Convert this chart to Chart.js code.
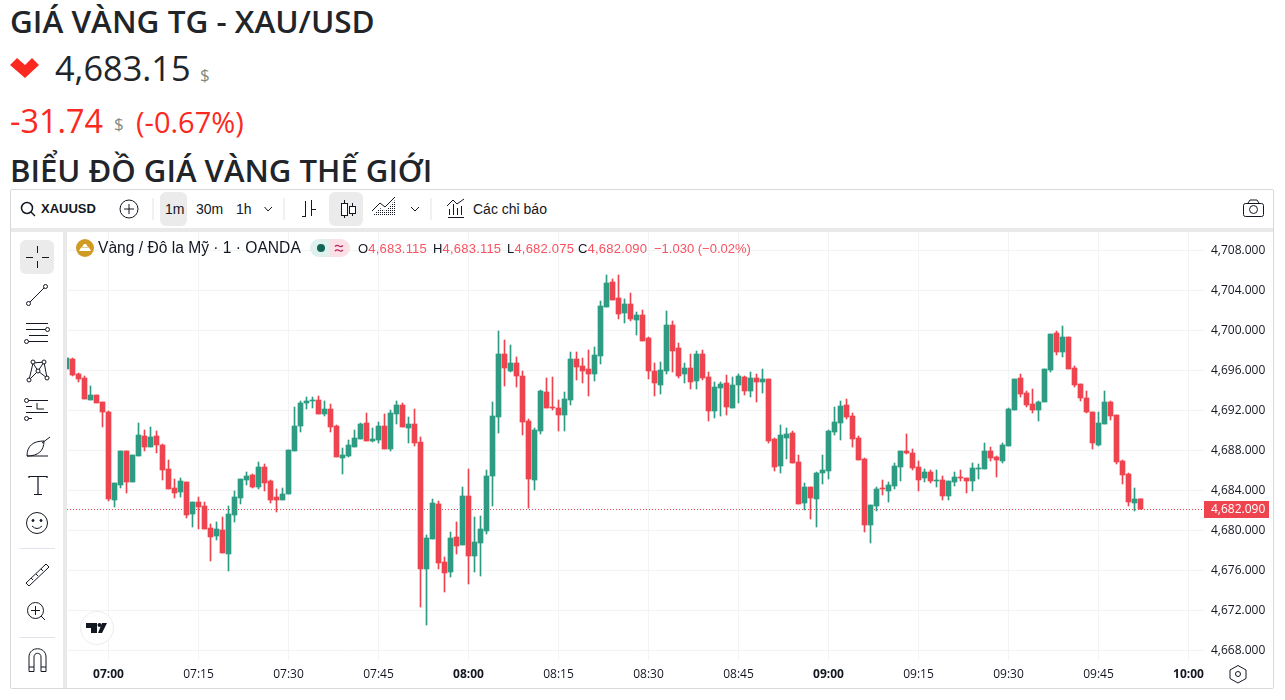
<!DOCTYPE html>
<html lang="vi">

<head>
    <meta charset="UTF-8" />
    <title>Giá vàng thế giới</title>
    <script src="https://cdn.jsdelivr.net/npm/chart.js"></script>
    <style>
        html, body { margin: 0; padding: 0; background: #fff; overflow: hidden; }
        body { width: 1285px; height: 700px; position: relative; font-family: "Liberation Sans", sans-serif; color: #131722; }
        .t { position: absolute; white-space: nowrap; line-height: 1; }
        .head { font-family: "Open Sans", sans-serif; color: #212529; }
        .bar { position: absolute; background: #e9e9e9; }
        .pill { position: absolute; background: #ebebeb; border-radius: 6px; }
        #khung { position: absolute; left: 10px; top: 189px; width: 1262px; height: 498px; border: 1px solid #d9d9d9; border-radius: 2px; }
        #bieudo { position: absolute; left: 67px; top: 232px; }
        #icons { position: absolute; left: 0; top: 0; }
    </style>
</head>

<body>
    <div class="t head" style="left:10px;top:5px;font-size:31.5px;font-weight:600">GIÁ VÀNG TG - XAU/USD</div>
    <div class="t head" style="left:55px;top:51px;font-size:34.3px">4,683.15</div>
    <div class="t head" style="left:200px;top:66px;font-size:17px;color:#7d8a80">$</div>
    <div class="t head" style="left:10px;top:104px;font-size:32.4px;color:#fb2a21">-31.74</div>
    <div class="t head" style="left:114px;top:115px;font-size:17px;color:#7d8a80">$</div>
    <div class="t head" style="left:136px;top:107px;font-size:29px;color:#fb2a21">(-0.67%)</div>
    <div class="t head" style="left:10px;top:155px;font-size:31.1px;font-weight:600">BIỂU ĐỒ GIÁ VÀNG THẾ GIỚI</div>

    <div id="khung"></div>
    <div class="bar" style="left:11px;top:228px;width:1262px;height:4px"></div>
    <div class="bar" style="left:63px;top:232px;width:4px;height:456px"></div>

    <div class="pill" style="left:160px;top:192px;width:27px;height:34px"></div>
    <div class="pill" style="left:329px;top:192px;width:34px;height:34px"></div>
    <div class="pill" style="left:20px;top:240px;width:34px;height:34px"></div>

    <canvas id="bieudo" width="1207" height="456"></canvas>

    <div class="t" style="left:41px;top:202px;font-size:13px;font-weight:700">XAUUSD</div>
    <div class="t" style="left:165px;top:202px;font-size:14px">1m</div>
    <div class="t" style="left:196px;top:202px;font-size:14px">30m</div>
    <div class="t" style="left:236px;top:202px;font-size:14px">1h</div>
    <div class="t" style="left:473px;top:202px;font-size:14px">Các chỉ báo</div>

    <div class="t" style="left:98px;top:240px;font-size:15.6px">Vàng / Đô la Mỹ · 1 · OANDA</div>
    <div class="t" style="left:358px;top:242px;font-size:13px;letter-spacing:.2px">O<span style="color:#f7525f">4,683.115</span></div>
    <div class="t" style="left:433px;top:242px;font-size:13px;letter-spacing:.2px">H<span style="color:#f7525f">4,683.115</span></div>
    <div class="t" style="left:507px;top:242px;font-size:13px;letter-spacing:.2px">L<span style="color:#f7525f">4,682.075</span></div>
    <div class="t" style="left:578px;top:242px;font-size:13px;letter-spacing:.2px">C<span style="color:#f7525f">4,682.090</span></div>
    <div class="t" style="left:654px;top:242px;font-size:13px;color:#f7525f">−1.030 (−0.02%)</div>

    <svg id="icons" width="1285" height="700" fill="none" stroke="#131722" stroke-width="1">
        <defs>
            <pattern id="soc" width="2" height="2" patternUnits="userSpaceOnUse"><rect width="1" height="1" fill="#131722" stroke="none" /></pattern>
        </defs>
        <!-- mui ten giam -->
        <path d="M10 65 L17 58 L25 65 L32 58 L39 65 L25 78 Z" fill="#fb2a21" stroke="none" />

        <!-- thanh cong cu tren -->
        <circle cx="27" cy="208" r="5.5" stroke-width="1.5" /><path d="M31 212 L35 216" stroke-width="1.5" />
        <circle cx="129" cy="209" r="9" /><path d="M129 204 V214 M124 209 H134" />
        <path d="M153 198 V220 M284 198 V220 M431 198 V220" stroke="#e0e3eb" />
        <path d="M264.500 207 L268 211 L272 207 M411 207 L415 211 L419 207" />
        <path d="M302 216.500 H305.500 M305.500 201 V217 M311.500 200 V216 M311.500 209.500 H316" />
        <path d="M344.500 200 V218 M352.500 203 V216" /><rect x="341.500" y="203.500" width="6" height="12" fill="#fff" /><rect x="349.500" y="206.500" width="6" height="7" fill="#fff" />
        <path d="M372 216 L380 208 L385 211 L395 200 V216 Z" fill="url(#soc)" stroke="none" /><path d="M372 211 L380 203 L385 207 L395 197" />
        <path d="M448 217.500 H464 M449.500 215 V209 M453.500 215 V204 M457.500 215 V208 M461.500 215 V206 M447 206 L453 200 L457 204 L464 199" />
        <rect x="1243.500" y="203.500" width="20" height="13" rx="2" /><circle cx="1253.500" cy="209.500" r="4" /><path d="M1248 203 L1250 200 H1257 L1259 203" />

        <!-- thanh cong cu trai -->
        <path d="M37.500 246 V253 M37.500 261 V268 M26 257.500 H33 M42 257.500 H49" />
        <circle cx="28.500" cy="303.500" r="2" /><circle cx="45.500" cy="286.500" r="2" /><path d="M30 302 L44 288" />
        <path d="M26 323.500 H48 M26 329.500 H45 M26 341.500 H48 M29 335.500 H48" /><circle cx="47.500" cy="329.500" r="2" fill="#fff" /><circle cx="26.500" cy="341.500" r="2" fill="#fff" />
        <path d="M29 380 L33 363 L38 371 L44 362 L47 378 L38 371 L29 380 M33 363 L44 362" /><circle cx="29" cy="380" r="2" fill="#fff" /><circle cx="33" cy="362" r="2" fill="#fff" /><circle cx="38" cy="371" r="2" fill="#fff" /><circle cx="44" cy="362" r="2" fill="#fff" /><circle cx="47" cy="378" r="2" fill="#fff" />
        <path d="M26 400.500 H48 M26 406.500 H32 M26 412.500 H48 M26 418.500 H32 M37 403 V409 H44" /><circle cx="26.500" cy="400.500" r="2" fill="#fff" /><circle cx="26.500" cy="418.500" r="2" fill="#fff" />
        <path d="M27 456 C27 446 33 441 44 441 C44 451 38 456 27 456 Z M27 456 H48 M42 443 L50 437" />
        <path d="M29 478 V476.500 H47 V478 M38 477 V494 M34 494.500 H42" stroke-width="1.200" />
        <circle cx="37" cy="523" r="10.500" /><circle cx="33" cy="520.500" r="1" fill="#131722" /><circle cx="41" cy="520.500" r="1" fill="#131722" /><path d="M32 526 Q37 531 42 526" />
        <path d="M19.500 548.500 H55 M19.500 637.500 H55" stroke="#e0e3eb" />
        <path d="M26 583 L46 564 L49 567 L29 586 Z M31 578 L33 580 M36 574 L38 576 M41 569 L43 571" />
        <circle cx="35.500" cy="610.500" r="8" /><path d="M41 616 L45 620 M35.500 606 V615 M31 610.500 H40" />
        <path d="M29 671.500 V657 C29 646 46 646 46 657 V671.500 H41 V657 C41 652 34 652 34 657 V671.500 Z M29 667 H34 M41 667 H46" />
        <path d="M1238 665.500 L1246 670 V678.500 L1238 683 L1230 678.500 V670 Z" /><circle cx="1238" cy="674" r="2.500" />

        <!-- tieu de vang va logo -->
        <circle cx="85" cy="248" r="9" fill="#cf9b23" stroke="none" />
        <path d="M79 251 H91 L89 247.500 H81 Z M82 247 L84 244 H86 L88 247 Z" fill="#fff" stroke="none" />
        <path d="M319 239 H330 V257 H319 A9 9 0 0 1 319 239 Z" fill="#dff1ec" stroke="none" />
        <path d="M330 239 H341 A9 9 0 0 1 341 257 H330 Z" fill="#fbe1e6" stroke="none" />
        <circle cx="321" cy="248" r="4" fill="#136655" stroke="none" />
        <path d="M335 246.500 Q337 244.500 339 246 Q341 247.500 343 245.500 M335 251 Q337 249 339 250.500 Q341 252 343 250" stroke="#b5225f" stroke-width="1.200" />
        <circle cx="97" cy="628" r="16.500" fill="#fff" stroke="#ececec" />
        <path d="M86 623 H97 V633 H91 V628 H86 Z M107 623 L102 633 H98 L102 623 Z" fill="#131722" stroke="none" /><circle cx="99.500" cy="625" r="2" fill="#131722" stroke="none" />
    </svg>

    <script>
        // Nen 1 phut XAU/USD, phut 0 la 07:00
        const firstMinute = -7;
        const opens = [
            4696.1, 4697.1, 4695.6, 4695.2, 4693.0, 4693.5, 4692.8,
            4691.8, 4683.0, 4684.5, 4687.9, 4684.8, 4687.4, 4689.4, 4688.3, 4689.4, 4688.5,
            4686.1, 4684.2, 4683.8, 4684.8, 4681.6, 4682.8, 4682.4, 4680.2, 4679.4, 4680.0,
            4677.6, 4681.5, 4683.2, 4685.0, 4685.5, 4684.3, 4686.3, 4684.9, 4683.3, 4683.0,
            4683.6, 4687.9, 4690.4, 4692.7, 4692.9, 4693.0, 4691.6, 4692.1, 4690.4, 4687.2,
            4687.4, 4688.3, 4689.1, 4690.7, 4688.9, 4689.0, 4690.4, 4688.1, 4691.6, 4692.5,
            4690.2, 4690.6, 4688.8, 4676.1, 4679.1, 4682.6, 4676.8, 4675.8, 4679.3, 4678.5,
            4683.4, 4677.4, 4678.7, 4679.9, 4685.4, 4691.3, 4697.6, 4695.9, 4696.7, 4695.4,
            4690.9, 4685.0, 4689.9, 4693.8, 4692.3, 4692.2, 4691.5, 4693.0, 4697.1, 4696.4,
            4696.1, 4695.6, 4697.4, 4702.3, 4704.8, 4703.2, 4701.7, 4702.6, 4701.0, 4701.5,
            4699.2, 4695.9, 4694.5, 4695.9, 4700.5, 4698.2, 4695.6, 4696.2, 4694.9, 4697.6,
            4695.3, 4691.9, 4694.2, 4694.7, 4692.2, 4694.5, 4695.3, 4693.9, 4695.2, 4694.8,
            4695.1, 4689.1, 4686.4, 4689.2, 4689.7, 4686.8, 4682.7, 4684.3, 4683.1, 4685.7,
            4685.9, 4689.8, 4690.7, 4692.5, 4691.4, 4689.2, 4687.1, 4680.5, 4682.4, 4684.2,
            4683.9, 4684.4, 4686.3, 4687.9, 4687.7, 4686.3, 4685.2, 4685.8, 4684.9, 4685.0,
            4683.4, 4684.8, 4685.3, 4685.2, 4684.9, 4686.1, 4686.1, 4687.9, 4687.3, 4686.9,
            4688.4, 4692.0, 4695.2, 4693.7, 4692.6, 4692.0, 4692.8, 4696.0, 4699.7, 4697.8,
            4699.3, 4696.2, 4694.6, 4693.2, 4691.8, 4688.5, 4690.6, 4692.8, 4691.5, 4686.9,
            4685.6, 4682.7, 4683.115
        ];
        const highs = [
            4697.2, 4697.2, 4695.7, 4695.4, 4694.4, 4693.5, 4692.8,
            4691.9, 4684.7, 4687.9, 4687.9, 4687.5, 4690.7, 4690.0, 4690.3, 4689.9, 4688.6,
            4687.0, 4685.1, 4685.2, 4684.8, 4682.8, 4683.3, 4682.8, 4680.6, 4680.8, 4681.3,
            4682.4, 4683.9, 4685.1, 4685.8, 4685.6, 4686.8, 4686.6, 4685.0, 4684.1, 4684.2,
            4688.0, 4692.3, 4692.9, 4693.3, 4693.3, 4693.4, 4692.9, 4692.6, 4690.5, 4688.2,
            4689.0, 4690.0, 4690.7, 4691.7, 4690.2, 4690.8, 4691.6, 4692.0, 4692.9, 4692.7,
            4691.3, 4692.1, 4689.3, 4679.5, 4683.1, 4682.9, 4677.3, 4679.8, 4680.8, 4684.3,
            4686.1, 4681.3, 4681.4, 4686.0, 4692.8, 4699.9, 4699.0, 4698.5, 4697.3, 4695.9,
            4691.1, 4690.2, 4694.0, 4695.2, 4695.3, 4693.0, 4693.8, 4697.8, 4697.8, 4697.2,
            4698.0, 4698.3, 4702.9, 4705.5, 4705.1, 4705.5, 4703.1, 4703.7, 4701.8, 4702.0,
            4699.3, 4696.7, 4696.8, 4701.9, 4700.9, 4698.7, 4696.7, 4697.6, 4697.9, 4698.0,
            4695.8, 4694.8, 4694.8, 4695.5, 4695.3, 4695.6, 4695.4, 4695.8, 4695.6, 4696.1,
            4695.1, 4689.2, 4690.5, 4690.2, 4689.9, 4687.5, 4684.7, 4684.3, 4685.8, 4687.5,
            4690.0, 4692.3, 4692.9, 4693.1, 4691.7, 4689.4, 4687.2, 4682.5, 4684.3, 4685.0,
            4684.8, 4686.7, 4687.9, 4689.6, 4688.1, 4686.9, 4686.1, 4686.0, 4686.0, 4685.4,
            4684.9, 4685.8, 4686.0, 4685.2, 4686.7, 4686.6, 4688.7, 4688.3, 4687.4, 4688.7,
            4692.2, 4695.1, 4695.6, 4693.9, 4694.1, 4692.9, 4696.1, 4699.6, 4699.9, 4700.4,
            4699.3, 4696.4, 4694.6, 4693.9, 4691.8, 4691.8, 4693.9, 4692.9, 4691.5, 4687.0,
            4685.7, 4684.2, 4683.115
        ];
        const lows = [
            4696.1, 4695.4, 4694.8, 4693.1, 4693.0, 4692.7, 4690.3,
            4682.9, 4682.3, 4684.2, 4683.7, 4684.8, 4687.4, 4687.9, 4688.3, 4687.7, 4685.0,
            4684.1, 4683.2, 4683.3, 4681.2, 4680.3, 4680.1, 4680.1, 4676.9, 4679.0, 4677.7,
            4675.9, 4680.8, 4682.6, 4684.5, 4684.2, 4684.1, 4683.9, 4682.7, 4681.8, 4683.0,
            4683.6, 4687.9, 4689.8, 4692.1, 4692.2, 4691.6, 4691.4, 4689.8, 4687.3, 4685.6,
            4687.3, 4688.3, 4689.1, 4688.9, 4688.8, 4688.7, 4688.1, 4687.9, 4690.6, 4690.3,
            4688.7, 4688.4, 4672.3, 4670.5, 4679.1, 4676.1, 4673.8, 4675.3, 4677.6, 4678.5,
            4674.6, 4675.8, 4675.4, 4679.6, 4682.4, 4689.7, 4694.4, 4695.8, 4694.3, 4689.5,
            4682.2, 4684.0, 4689.6, 4692.2, 4692.0, 4689.9, 4689.9, 4692.5, 4695.0, 4694.7,
            4693.4, 4694.9, 4696.6, 4702.3, 4703.0, 4701.1, 4700.7, 4700.9, 4699.5, 4698.9,
            4695.1, 4693.4, 4693.6, 4695.6, 4695.8, 4695.2, 4694.7, 4694.1, 4694.1, 4695.0,
            4690.9, 4691.2, 4691.4, 4691.5, 4692.2, 4692.7, 4693.5, 4693.3, 4692.8, 4693.7,
            4688.7, 4685.9, 4685.7, 4687.1, 4686.7, 4682.6, 4682.0, 4681.1, 4680.3, 4684.6,
            4685.1, 4689.5, 4689.0, 4691.1, 4688.3, 4687.0, 4679.8, 4678.7, 4681.9, 4683.5,
            4682.8, 4684.1, 4684.9, 4687.6, 4686.0, 4683.9, 4684.8, 4684.7, 4684.3, 4683.0,
            4683.0, 4684.4, 4684.9, 4683.7, 4683.9, 4685.1, 4686.1, 4686.9, 4685.3, 4686.7,
            4688.4, 4692.0, 4693.3, 4692.3, 4691.7, 4690.9, 4692.8, 4695.8, 4697.5, 4697.3,
            4696.1, 4694.3, 4692.9, 4691.7, 4688.1, 4688.4, 4690.6, 4691.0, 4686.6, 4684.6,
            4682.4, 4681.9, 4682.075
        ];
        const closes = [
            4697.2, 4695.5, 4695.1, 4693.1, 4693.5, 4692.7, 4691.8,
            4683.1, 4684.7, 4687.9, 4684.8, 4687.5, 4689.5, 4688.3, 4689.3, 4688.5, 4686.0,
            4684.1, 4683.7, 4684.9, 4681.5, 4682.8, 4682.3, 4680.1, 4679.3, 4680.1, 4677.7,
            4681.6, 4683.3, 4685.1, 4685.4, 4684.3, 4686.3, 4684.7, 4683.0, 4683.0, 4683.6,
            4688.0, 4690.4, 4692.7, 4692.9, 4693.0, 4691.6, 4692.1, 4690.3, 4687.3, 4687.5,
            4688.5, 4689.2, 4690.6, 4688.9, 4689.1, 4690.4, 4688.1, 4691.7, 4692.5, 4690.3,
            4690.6, 4688.7, 4676.1, 4679.2, 4682.7, 4676.7, 4675.7, 4679.2, 4678.4, 4683.4,
            4677.4, 4678.8, 4680.1, 4685.4, 4691.4, 4697.6, 4696.2, 4696.7, 4695.4, 4690.8,
            4685.1, 4690.0, 4693.9, 4692.2, 4692.2, 4691.5, 4693.1, 4697.1, 4696.3, 4695.9,
            4695.6, 4697.5, 4702.4, 4704.7, 4703.0, 4701.6, 4702.6, 4701.1, 4701.5, 4698.9,
            4695.9, 4694.7, 4696.0, 4700.5, 4697.9, 4695.4, 4696.2, 4694.8, 4697.6, 4695.2,
            4691.9, 4694.3, 4694.6, 4692.3, 4694.5, 4695.4, 4693.9, 4695.2, 4694.8, 4695.1,
            4688.9, 4686.3, 4689.5, 4689.6, 4686.7, 4682.6, 4684.3, 4683.2, 4685.7, 4686.0,
            4689.9, 4690.8, 4692.4, 4691.3, 4689.1, 4687.0, 4680.5, 4682.5, 4684.1, 4684.1,
            4684.5, 4686.4, 4687.9, 4687.7, 4686.2, 4685.0, 4685.8, 4684.9, 4685.0, 4683.4,
            4684.9, 4685.3, 4685.2, 4684.9, 4686.2, 4686.2, 4687.9, 4687.2, 4687.0, 4688.5,
            4692.1, 4695.1, 4693.6, 4692.5, 4692.0, 4692.8, 4696.1, 4699.6, 4697.8, 4699.3,
            4696.1, 4694.5, 4693.2, 4691.8, 4688.7, 4690.7, 4692.8, 4691.4, 4686.8, 4685.5,
            4682.8, 4683.1, 4682.090
        ];

        const timeTicks = [0, 15, 30, 45, 60, 75, 90, 105, 120, 135, 150, 165, 180];
        const timeLabels = ["07:00", "07:15", "07:30", "07:45", "08:00", "08:15", "08:30", "08:45", "09:00", "09:15", "09:30", "09:45", "10:00"];
        const priceTicks = [4668, 4672, 4676, 4680, 4684, 4688, 4692, 4696, 4700, 4704, 4708];
        const lastPrice = closes[closes.length - 1];

        const mauTang = "#2e9c82";
        const mauGiam = "#ee444f";
        const mauLuoi = "#f2f3f5";
        const fontTruc = '"Open Sans", sans-serif';

        function mauNen(ctx) {
            return closes[ctx.dataIndex] >= opens[ctx.dataIndex] ? mauTang : mauGiam;
        }

        function dinhDangGia(v) {
            return v.toLocaleString("en-US", { minimumFractionDigits: 3, maximumFractionDigits: 3 });
        }

        // bo phan dem cua truc de vung ve khit khung
        function boDem(s) {
            s.paddingTop = 0;
            s.paddingBottom = 0;
            s.paddingLeft = 0;
            s.paddingRight = 0;
        }

        // duong gia cuoi, nam duoi cac nen
        const duongGiaCuoi = {
            id: "duongGiaCuoi",
            beforeDatasetsDraw(chart) {
                const y = chart.scales.y;
                const c = chart.ctx;
                const py = Math.floor(y.getPixelForValue(lastPrice)) + 0.5;
                c.save();
                c.strokeStyle = mauGiam;
                c.lineWidth = 1;
                c.setLineDash([1, 2]);
                c.beginPath();
                c.moveTo(chart.chartArea.left, py);
                c.lineTo(chart.chartArea.right, py);
                c.stroke();
                c.restore();
            },
            afterDraw(chart) {
                const y = chart.scales.y;
                const c = chart.ctx;
                const py = Math.floor(y.getPixelForValue(lastPrice));
                c.save();
                c.fillStyle = mauGiam;
                c.fillRect(chart.chartArea.right, py - 8, 65, 17);
                c.fillStyle = "#fff";
                c.font = "12px " + fontTruc;
                c.textBaseline = "middle";
                c.fillText(dinhDangGia(lastPrice), chart.chartArea.right + 7, py + 1);
                c.restore();
            }
        };

        new Chart(document.getElementById("bieudo"), {
            type: "bar",
            data: {
                datasets: [{
                    // than nen
                    data: opens.map((o, i) => ({ x: firstMinute + i, y: [o, closes[i]] })),
                    backgroundColor: mauNen,
                    barThickness: 5,
                    grouped: false
                }, {
                    // bong nen
                    data: lows.map((l, i) => ({ x: firstMinute + i, y: [l, highs[i]] })),
                    backgroundColor: mauNen,
                    barThickness: 1,
                    grouped: false
                }]
            },
            options: {
                responsive: false,
                animation: false,
                devicePixelRatio: 1,
                layout: { padding: 0, autoPadding: false },
                plugins: { legend: { display: false }, tooltip: { enabled: false } },
                scales: {
                    x: {
                        type: "linear",
                        offset: false,
                        min: -6.9167,
                        max: 182.5833,
                        border: { display: false },
                        grid: { color: mauLuoi, drawTicks: false, offset: false },
                        afterBuildTicks: s => { s.ticks = timeTicks.map(v => ({ value: v })); },
                        afterFit: s => { s.height = 28; boDem(s); },
                        ticks: {
                            autoSkip: false,
                            maxRotation: 0,
                            padding: 7,
                            color: "#131722",
                            font: ctx => ({ family: fontTruc, size: 12, weight: ctx.index % 4 == 0 ? 700 : 400 }),
                            callback: (v, i) => timeLabels[i]
                        }
                    },
                    y: {
                        position: "right",
                        min: 4667,
                        max: 4709.8,
                        border: { display: false },
                        grid: { color: mauLuoi, drawTicks: false },
                        afterBuildTicks: s => { s.ticks = priceTicks.map(v => ({ value: v })); },
                        afterFit: s => { s.width = 70; boDem(s); },
                        ticks: {
                            autoSkip: false,
                            padding: 7,
                            labelOffset: 1,
                            color: "#131722",
                            font: { family: fontTruc, size: 12 },
                            callback: v => dinhDangGia(v)
                        }
                    }
                }
            },
            plugins: [duongGiaCuoi]
        });
    </script>
</body>

</html>
